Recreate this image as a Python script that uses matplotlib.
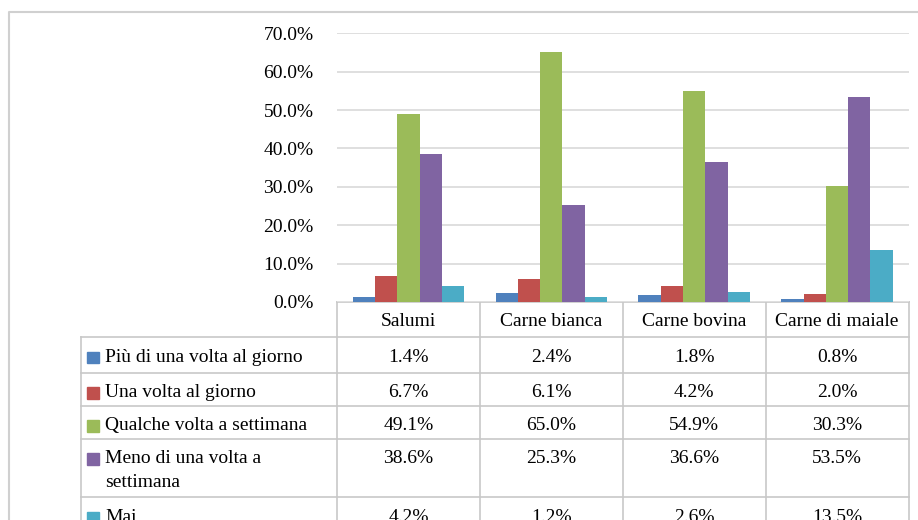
import numpy as np
import matplotlib
matplotlib.use("Agg")
import matplotlib.pyplot as plt
from matplotlib.transforms import blended_transform_factory

plt.rcParams['font.family'] = ['Liberation Serif', 'DejaVu Serif']

categories = ["Salumi", "Carne bianca", "Carne bovina", "Carne di maiale"]
series_names = ["Più di una volta al giorno", "Una volta al giorno",
                "Qualche volta a settimana", "Meno di una volta a\nsettimana", "Mai"]
piu_volte_giorno = [1.4, 2.4, 1.8, 0.8]
una_volta_giorno = [6.7, 6.1, 4.2, 2.0]
qualche_volta_sett = [49.1, 65.0, 54.9, 30.3]
meno_una_volta_sett = [38.6, 25.3, 36.6, 53.5]
mai = [4.2, 1.2, 2.6, 13.5]
y_ticks = [0, 10, 20, 30, 40, 50, 60, 70]

series = [piu_volte_giorno, una_volta_giorno, qualche_volta_sett, meno_una_volta_sett, mai]
colors = ["#4F81BD", "#C0504D", "#9BBB59", "#8064A2", "#4BACC6"]
grid_c = "#d9d9d9"
line_c = "#c8c8c8"
fs = 14

W, H = 918, 520
fig = plt.figure(figsize=(W / 100, H / 100), dpi=100)

# plot area in pixels
left, right, top, bottom = 337, 908.5, 33.3, 302
ax = fig.add_axes([left / W, 1 - bottom / H, (right - left) / W, (bottom - top) / H])

x = np.arange(len(categories))
bw = 0.156
for i, vals in enumerate(series):
    ax.bar(x + (i - 2) * bw, vals, bw, color=colors[i], zorder=3)

ax.set_xlim(-0.5, len(categories) - 0.5)
ax.set_ylim(0, 70)
ax.set_yticks(y_ticks)
ax.set_yticklabels([f"{v:.1f}%" for v in y_ticks], fontsize=fs)
ax.tick_params(axis='y', length=0, pad=17)
ax.set_xticks([])
for s in ax.spines.values():
    s.set_visible(False)
ax.yaxis.grid(True, color=grid_c, linewidth=1.2, zorder=0)

# overlay axes for table + frame, in pixel coords
tab = fig.add_axes([0, 0, 1, 1], zorder=-1)
tab.set_xlim(0, W)
tab.set_ylim(H, 0)
tab.axis('off')
tr = blended_transform_factory(ax.transData, tab.transData)

# outer chart border
tab.plot([8.7, 8.7, W], [H, 12.3, 12.3], color="#d0d0d0", lw=1.5)

label_left = 80.7
rows = [337, 372.7, 405.7, 438.5, 497, 532]
col_edges = [left + (right - left) * k / len(categories) for k in range(len(categories) + 1)]

# horizontal lines
tab.plot([left, right], [bottom, bottom], color=line_c, lw=1.2)
for yv in rows[:-1]:
    tab.plot([label_left, right], [yv, yv], color=line_c, lw=1.2)
# vertical lines
tab.plot([label_left, label_left], [rows[0], H], color=line_c, lw=1.2)
for xe in col_edges:
    tab.plot([xe, xe], [bottom, H], color=line_c, lw=1.2)

# header
for j, cat in enumerate(categories):
    tab.text(j, (bottom + rows[0]) / 2 + 1.5, cat, transform=tr, ha='center', va='center', fontsize=fs)

# rows
for i, name in enumerate(series_names):
    ytop = rows[i]
    tab.add_patch(plt.Rectangle((87.3, ytop + 14.5), 11.5, 11.5, color=colors[i]))
    tab.text(105, ytop + 11.5, name, ha='left', va='top', fontsize=fs, linespacing=1.55)
    for j, v in enumerate(series[i]):
        tab.text(j, ytop + 11.5, f"{v:.1f}%", transform=tr, ha='center', va='top', fontsize=fs)

fig.savefig("out.png", dpi=100)
